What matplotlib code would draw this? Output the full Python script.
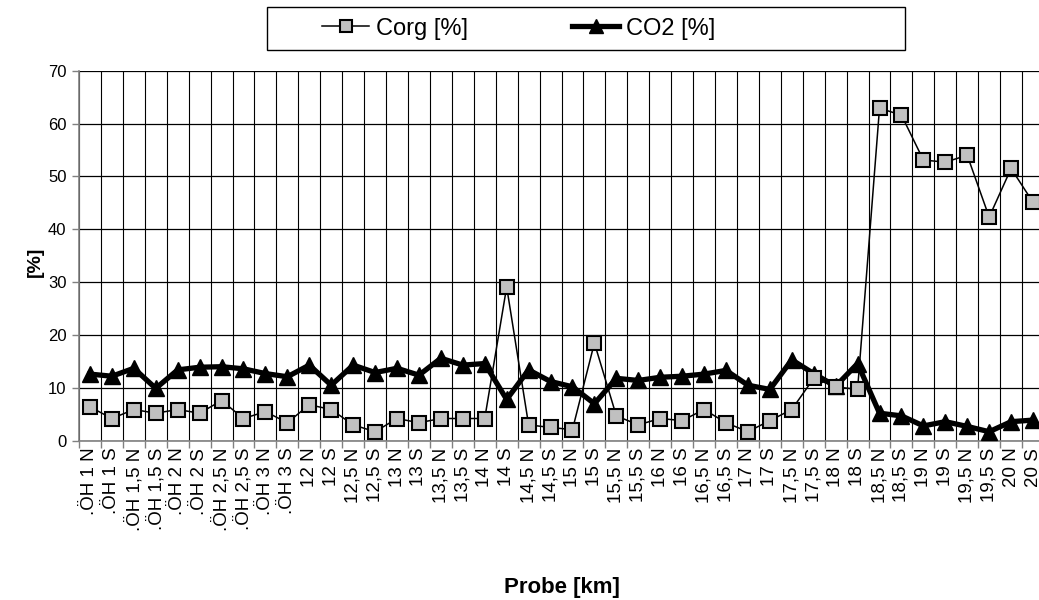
import matplotlib
matplotlib.use("Agg")
import matplotlib.pyplot as plt
from matplotlib.patches import Rectangle
from matplotlib.lines import Line2D

plt.rcParams['font.family'] = ['Liberation Sans', 'DejaVu Sans']

categories = [
    ".ÖH 1 N", ".ÖH 1 S", ".ÖH 1,5 N", ".ÖH 1,5 S", ".ÖH 2 N", ".ÖH 2 S",
    ".ÖH 2,5 N", ".ÖH 2,5 S", ".ÖH 3 N", ".ÖH 3 S",
    "12 N", "12 S", "12,5 N", "12,5 S", "13 N", "13 S", "13,5 N", "13,5 S",
    "14 N", "14 S", "14,5 N", "14,5 S", "15 N", "15 S", "15,5 N", "15,5 S",
    "16 N", "16 S", "16,5 N", "16,5 S", "17 N", "17 S", "17,5 N", "17,5 S",
    "18 N", "18 S", "18,5 N", "18,5 S", "19 N", "19 S", "19,5 N", "19,5 S",
    "20 N", "20 S",
]

corg = [6.4, 4.2, 5.9, 5.2, 5.9, 5.2, 7.6, 4.2, 5.5, 3.4,
        6.8, 5.9, 3.0, 1.7, 4.2, 3.4, 4.2, 4.2, 4.2, 29.1,
        3.0, 2.5, 2.1, 18.5, 4.7, 3.0, 4.2, 3.8, 5.9, 3.4,
        1.7, 3.8, 5.9, 11.8, 10.2, 9.7, 62.9, 61.6, 53.1, 52.7,
        54.0, 42.3, 51.5, 45.1]

co2 = [12.6, 12.2, 13.7, 9.9, 13.4, 13.9, 14.0, 13.6, 12.7, 12.1,
       14.3, 10.5, 14.3, 12.9, 13.7, 12.4, 15.6, 14.3, 14.6, 7.8,
       13.4, 11.2, 10.2, 7.0, 11.8, 11.4, 12.0, 12.2, 12.6, 13.3,
       10.5, 9.7, 15.3, 12.7, 10.3, 14.6, 5.2, 4.7, 2.8, 3.6,
       2.7, 1.7, 3.6, 3.9]

yticks = [0, 10, 20, 30, 40, 50, 60, 70]

W, H = 1039, 600
fig = plt.figure(figsize=(W / 100, H / 100), dpi=100)
ax = fig.add_axes([79 / W, (H - 440.7) / H, (1044 - 79) / W, 370 / H])

x = list(range(len(categories)))

ax.plot(x, corg, color='black', lw=1.1, marker='s', markersize=9.5,
        markerfacecolor='#c0c0c0', markeredgecolor='black', markeredgewidth=1.5,
        zorder=4, label='Corg [%]')
ax.plot(x, co2, color='black', lw=3.8, marker='^', markersize=11,
        markerfacecolor='black', markeredgecolor='black',
        zorder=3, label='CO2 [%]')

ax.set_xlim(-0.5, len(categories) - 0.5)
ax.set_ylim(0, 70)
ax.set_yticks(yticks)
ax.set_yticklabels([str(v) for v in yticks], fontsize=12)

ax.set_xticks(x)
ax.set_xticklabels(categories, rotation=90, fontsize=13.5, va='top', ha='center')
ax.set_xticks([i - 0.5 for i in range(len(categories) + 1)], minor=True)
ax.tick_params(axis='x', which='major', length=0, pad=5)
ax.tick_params(axis='x', which='minor', length=5, width=1, color='#808080', direction='out')
ax.tick_params(axis='y', which='major', length=5, width=1, color='#808080', direction='out', pad=4)

ax.grid(True, axis='y', which='major', color='black', lw=0.9)
ax.grid(True, axis='x', which='minor', color='black', lw=0.8)
ax.set_axisbelow(True)

for s in ['top', 'right']:
    ax.spines[s].set_visible(False)
for s in ['left', 'bottom']:
    ax.spines[s].set_color('#808080')
    ax.spines[s].set_linewidth(1.2)

fig.text(35 / W, 1 - 262 / H, '[%]', rotation=90, fontsize=14, fontweight='bold',
         ha='center', va='center')
fig.text(562 / W, 1 - 588 / H, 'Probe [km]', fontsize=16, fontweight='bold',
         ha='center', va='center')

fig.patches.append(Rectangle((267 / W, 1 - 50 / H), 638 / W, 43 / H,
                             transform=fig.transFigure, fill=False,
                             edgecolor='black', lw=1))
h1 = Line2D([], [], color='black', lw=1.1, marker='s', markersize=9,
            markerfacecolor='#c0c0c0', markeredgecolor='black', markeredgewidth=1.5)
h2 = Line2D([], [], color='black', lw=3.8, marker='^', markersize=10,
            markerfacecolor='black', markeredgecolor='black')
fig.legend([h1, h2], ['Corg [%]', 'CO2 [%]'], loc='center left',
           bbox_to_anchor=(322 / W, 1 - 28.5 / H), ncol=2, frameon=False,
           fontsize=17, handlelength=2.0, handletextpad=0.3, columnspacing=4.4,
           borderpad=0, borderaxespad=0)

fig.savefig('out.png', dpi=100)
